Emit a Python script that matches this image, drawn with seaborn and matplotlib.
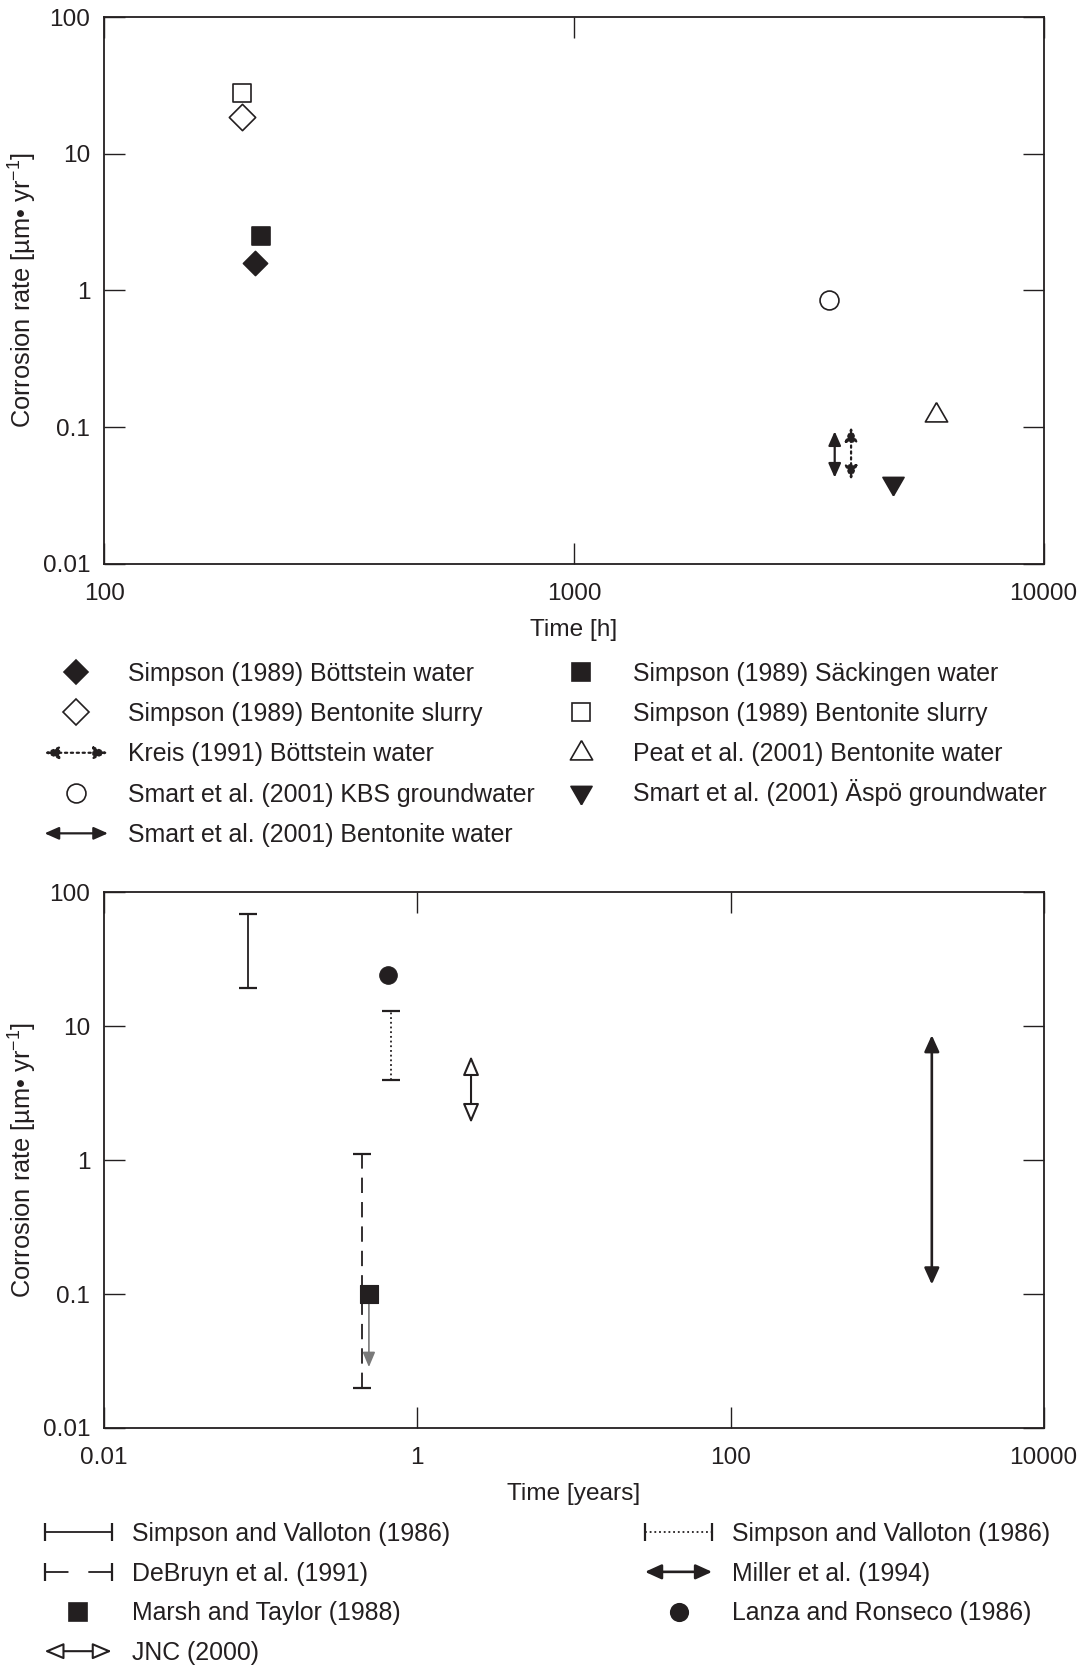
import numpy as np
import pandas as pd
import seaborn as sns
import matplotlib.pyplot as plt
from matplotlib.lines import Line2D
from matplotlib.patches import FancyArrowPatch
from matplotlib.legend_handler import HandlerBase
from matplotlib.ticker import NullLocator

BLACK = '#231f20'
GREY = '#7a7a7a'

# ---------------- data: top panel (time in hours) ----------------
point_labels = ['Simpson (1989) Böttstein water', 'Simpson (1989) Bentonite slurry',
                'Smart et al. (2001) KBS groundwater', 'Simpson (1989) Säckingen water',
                'Simpson (1989) Bentonite slurry', 'Peat et al. (2001) Bentonite water',
                'Smart et al. (2001) Äspö groundwater']
point_hours = [209, 196, 3490, 216, 196, 5900, 4775]
point_rates = [1.6, 18.5, 0.85, 2.5, 28, 0.123, 0.039]

arrow_labels = ['Kreis (1991) Böttstein water', 'Smart et al. (2001) Bentonite water']
arrow_hours = [3890, 3590]
arrow_low = [0.041, 0.0426]
arrow_high = [0.100, 0.093]

# ---------------- data: bottom panel (time in years) ----------------
range_labels = ['Simpson and Valloton (1986)', 'DeBruyn et al. (1991)', 'Simpson and Valloton (1986)']
range_years = [0.083, 0.44, 0.675]
range_low = [19.5, 0.02, 4.0]
range_high = [69, 1.12, 13.0]

dot_labels = ['Marsh and Taylor (1988)', 'Lanza and Ronseco (1986)']
dot_years = [0.49, 0.65]
dot_rates = [0.1, 24.4]
marsh_upper_to = 0.0285

span_labels = ['JNC (2000)', 'Miller et al. (1994)']
span_years = [2.2, 1930]
span_low = [1.9, 0.118]
span_high = [6.0, 8.6]

# ---------------- styles ----------------
TRI_UP = [(0, 1), (-0.866, -0.5), (0.866, -0.5), (0, 1)]
TRI_DOWN = [(0, -1), (-0.866, 0.5), (0.866, 0.5), (0, -1)]
point_styles = [dict(marker='D', fc=BLACK, ms=12.3),
                dict(marker='D', fc='white', ms=13.4),
                dict(marker='o', fc='white', ms=13.6),
                dict(marker='s', fc=BLACK, ms=12.6),
                dict(marker='s', fc='white', ms=13.6),
                dict(marker=TRI_UP, fc='white', ms=18.5),
                dict(marker=TRI_DOWN, fc=BLACK, ms=17.5)]
arrow_styles = [dict(arrowstyle='<|-|>,head_length=0.95,head_width=0.42', lw=1.6, ls=':', fc=BLACK, ec=BLACK),
                dict(arrowstyle='<|-|>,head_length=0.95,head_width=0.42', lw=1.6, ls='-', fc=BLACK, ec=BLACK)]
range_ls = ['-', (0, (8.5, 5)), (0, (1, 1.6))]
range_legend_ls = ['-', (0, (13, 11)), (0, (1, 1.6))]
dot_styles = [dict(marker='s', fc=BLACK, ms=12.8), dict(marker='o', fc=BLACK, ms=12.6)]
span_styles = [dict(arrowstyle='<|-|>,head_length=1.3,head_width=0.55', lw=1.5, ls='-', fc='white', ec=BLACK),
               dict(arrowstyle='<|-|>,head_length=1.1,head_width=0.5', lw=1.9, ls='-', fc=BLACK, ec=BLACK)]

sns.set_theme(style='ticks', rc={
    'axes.edgecolor': BLACK, 'axes.linewidth': 1.3,
    'xtick.direction': 'in', 'ytick.direction': 'in',
    'xtick.major.size': 15, 'ytick.major.size': 15,
    'xtick.major.width': 1.0, 'ytick.major.width': 1.0,
    'xtick.major.pad': 14, 'ytick.major.pad': 10,
    'xtick.top': True, 'ytick.right': True,
    'xtick.color': BLACK, 'ytick.color': BLACK,
    'text.color': BLACK, 'axes.labelcolor': BLACK,
})
plt.rcParams['font.family'] = ['Liberation Sans', 'DejaVu Sans']
plt.rcParams['mathtext.fontset'] = 'custom'
plt.rcParams['mathtext.rm'] = 'Liberation Sans'
plt.rcParams['mathtext.default'] = 'regular'
FS = 17.6
LEG_FS = 17.9


class ArrowHandler(HandlerBase):
    def __init__(self, props):
        super().__init__()
        self.props = props

    def create_artists(self, legend, orig_handle, xdescent, ydescent, width, height, fontsize, trans):
        y = height / 2 - ydescent
        arrow = FancyArrowPatch((-xdescent, y), (width - xdescent, y), transform=trans,
                                shrinkA=0, shrinkB=0, mutation_scale=9, **self.props)
        return [arrow]


class RangeHandler(HandlerBase):
    def __init__(self, ls):
        super().__init__()
        self.ls = ls

    def create_artists(self, legend, orig_handle, xdescent, ydescent, width, height, fontsize, trans):
        y = height / 2 - ydescent
        xs = [-xdescent, width - xdescent]
        line = Line2D(xs, [y, y], color=BLACK, lw=1.3, ls=self.ls, transform=trans)
        caps = Line2D(xs, [y, y], ls='none', marker='|', ms=13, mew=1.6, color=BLACK, transform=trans)
        return [line, caps]


def style_axes(ax, xticks, xlabels, xlabel):
    ax.set_xscale('log')
    ax.set_yscale('log')
    ax.set_ylim(0.01, 100)
    ax.set_xlim(xticks[0], xticks[-1])
    ax.set_xticks(xticks)
    ax.set_xticklabels(xlabels, fontsize=FS)
    ax.set_yticks([0.01, 0.1, 1, 10, 100])
    ax.set_yticklabels(['0.01', '0.1', '1', '10', '100'], fontsize=FS)
    ax.xaxis.set_minor_locator(NullLocator())
    ax.yaxis.set_minor_locator(NullLocator())
    ax.set_xlabel(xlabel, fontsize=FS, labelpad=10)
    ax.set_ylabel('Corrosion rate [µm• yr$^{-1}$]', fontsize=18.3, labelpad=3)
    for s in ax.spines.values():
        s.set_visible(True)


fig = plt.figure(figsize=(10.84, 16.66), dpi=100)
ax1 = fig.add_axes([0.0962, 0.6617, 0.8666, 0.32797])
ax2 = fig.add_axes([0.0962, 0.14286, 0.8666, 0.32143])
style_axes(ax1, [100, 1000, 10000], ['100', '1000', '10000'], 'Time [h]')
style_axes(ax2, [0.01, 1, 100, 10000], ['0.01', '1', '100', '10000'], 'Time [years]')

# ---- top panel marks
for t, r, st in zip(point_hours, point_rates, point_styles):
    sns.scatterplot(x=[t], y=[r], marker=st['marker'], s=st['ms'] ** 2, color=st['fc'],
                    edgecolor=BLACK, linewidth=1.2, ax=ax1, zorder=3)
for t, lo, hi, st in zip(arrow_hours, arrow_low, arrow_high, arrow_styles):
    ax1.annotate('', xy=(t, hi), xytext=(t, lo),
                 arrowprops=dict(shrinkA=0, shrinkB=0, mutation_scale=9, **st))

# ---- bottom panel marks
for x, lo, hi, ls in zip(range_years, range_low, range_high, range_ls):
    mid = np.sqrt(lo * hi)
    eb = ax2.errorbar([x], [mid], yerr=[[mid - lo], [hi - mid]], fmt='none', ecolor=BLACK,
                      elinewidth=1.3, capsize=6.3, capthick=1.6)
    eb.lines[2][0].set_linestyle(ls)
ax2.annotate('', xy=(dot_years[0], marsh_upper_to), xytext=(dot_years[0], dot_rates[0]),
             arrowprops=dict(arrowstyle='-|>,head_length=1.0,head_width=0.42', lw=1.2,
                             color=GREY, shrinkA=0, shrinkB=0, mutation_scale=9))
for x, r, st in zip(dot_years, dot_rates, dot_styles):
    sns.scatterplot(x=[x], y=[r], marker=st['marker'], s=st['ms'] ** 2, color=st['fc'],
                    edgecolor=BLACK, linewidth=0.8, ax=ax2, zorder=3)
for x, lo, hi, st in zip(span_years, span_low, span_high, span_styles):
    ax2.annotate('', xy=(x, hi), xytext=(x, lo),
                 arrowprops=dict(shrinkA=0, shrinkB=0, mutation_scale=9, **st))

# ---- legends
def marker_proxy(st):
    return Line2D([], [], ls='none', marker=st['marker'], ms=st['ms'], mfc=st['fc'],
                  mec=BLACK, mew=1.2)

hmap = {}
p = [marker_proxy(st) for st in point_styles]
a = [Line2D([], []) for _ in arrow_styles]
for h, st in zip(a, arrow_styles):
    hmap[h] = ArrowHandler(st)

leg_kw = dict(frameon=False, borderpad=0, borderaxespad=0,
              fontsize=LEG_FS, handletextpad=0.8, bbox_transform=fig.transFigure)
fig.legend([p[0], p[1], a[0], p[2], a[1]],
           [point_labels[0], point_labels[1], arrow_labels[0], point_labels[2], arrow_labels[1]],
           loc='upper left', bbox_to_anchor=(0.0411, 0.6027), handlelength=2.55,
           labelspacing=0.655, handler_map=hmap, **leg_kw)
fig.legend([p[3], p[4], p[5]],
           [point_labels[3], point_labels[4], point_labels[5]],
           loc='upper left', bbox_to_anchor=(0.5069, 0.6027), handlelength=2.55,
           labelspacing=0.655, **leg_kw)
# the capital umlaut makes this row taller, so it gets its own anchor
fig.legend([p[6]], [point_labels[6]], loc='center left', bbox_to_anchor=(0.5069, 0.5245),
           handlelength=2.55, **leg_kw)

r = [Line2D([], []) for _ in range_legend_ls]
d = [marker_proxy(st) for st in dot_styles]
s = [Line2D([], []) for _ in span_styles]
hmap2 = {h: RangeHandler(ls) for h, ls in zip(r, range_legend_ls)}
for h, st in zip(s, span_styles):
    hmap2[h] = ArrowHandler(st)
fig.legend([r[0], r[1], d[0], s[0]],
           [range_labels[0], range_labels[1], dot_labels[0], span_labels[0]],
           loc='upper left', bbox_to_anchor=(0.0411, 0.0865), handlelength=2.7,
           labelspacing=0.63, handler_map=hmap2, **leg_kw)
fig.legend([r[2], s[1], d[1]],
           [range_labels[2], span_labels[1], dot_labels[1]],
           loc='upper left', bbox_to_anchor=(0.595, 0.0865), handlelength=2.7,
           labelspacing=0.63, handler_map=hmap2, **leg_kw)

fig.savefig('out.png', dpi=100)
